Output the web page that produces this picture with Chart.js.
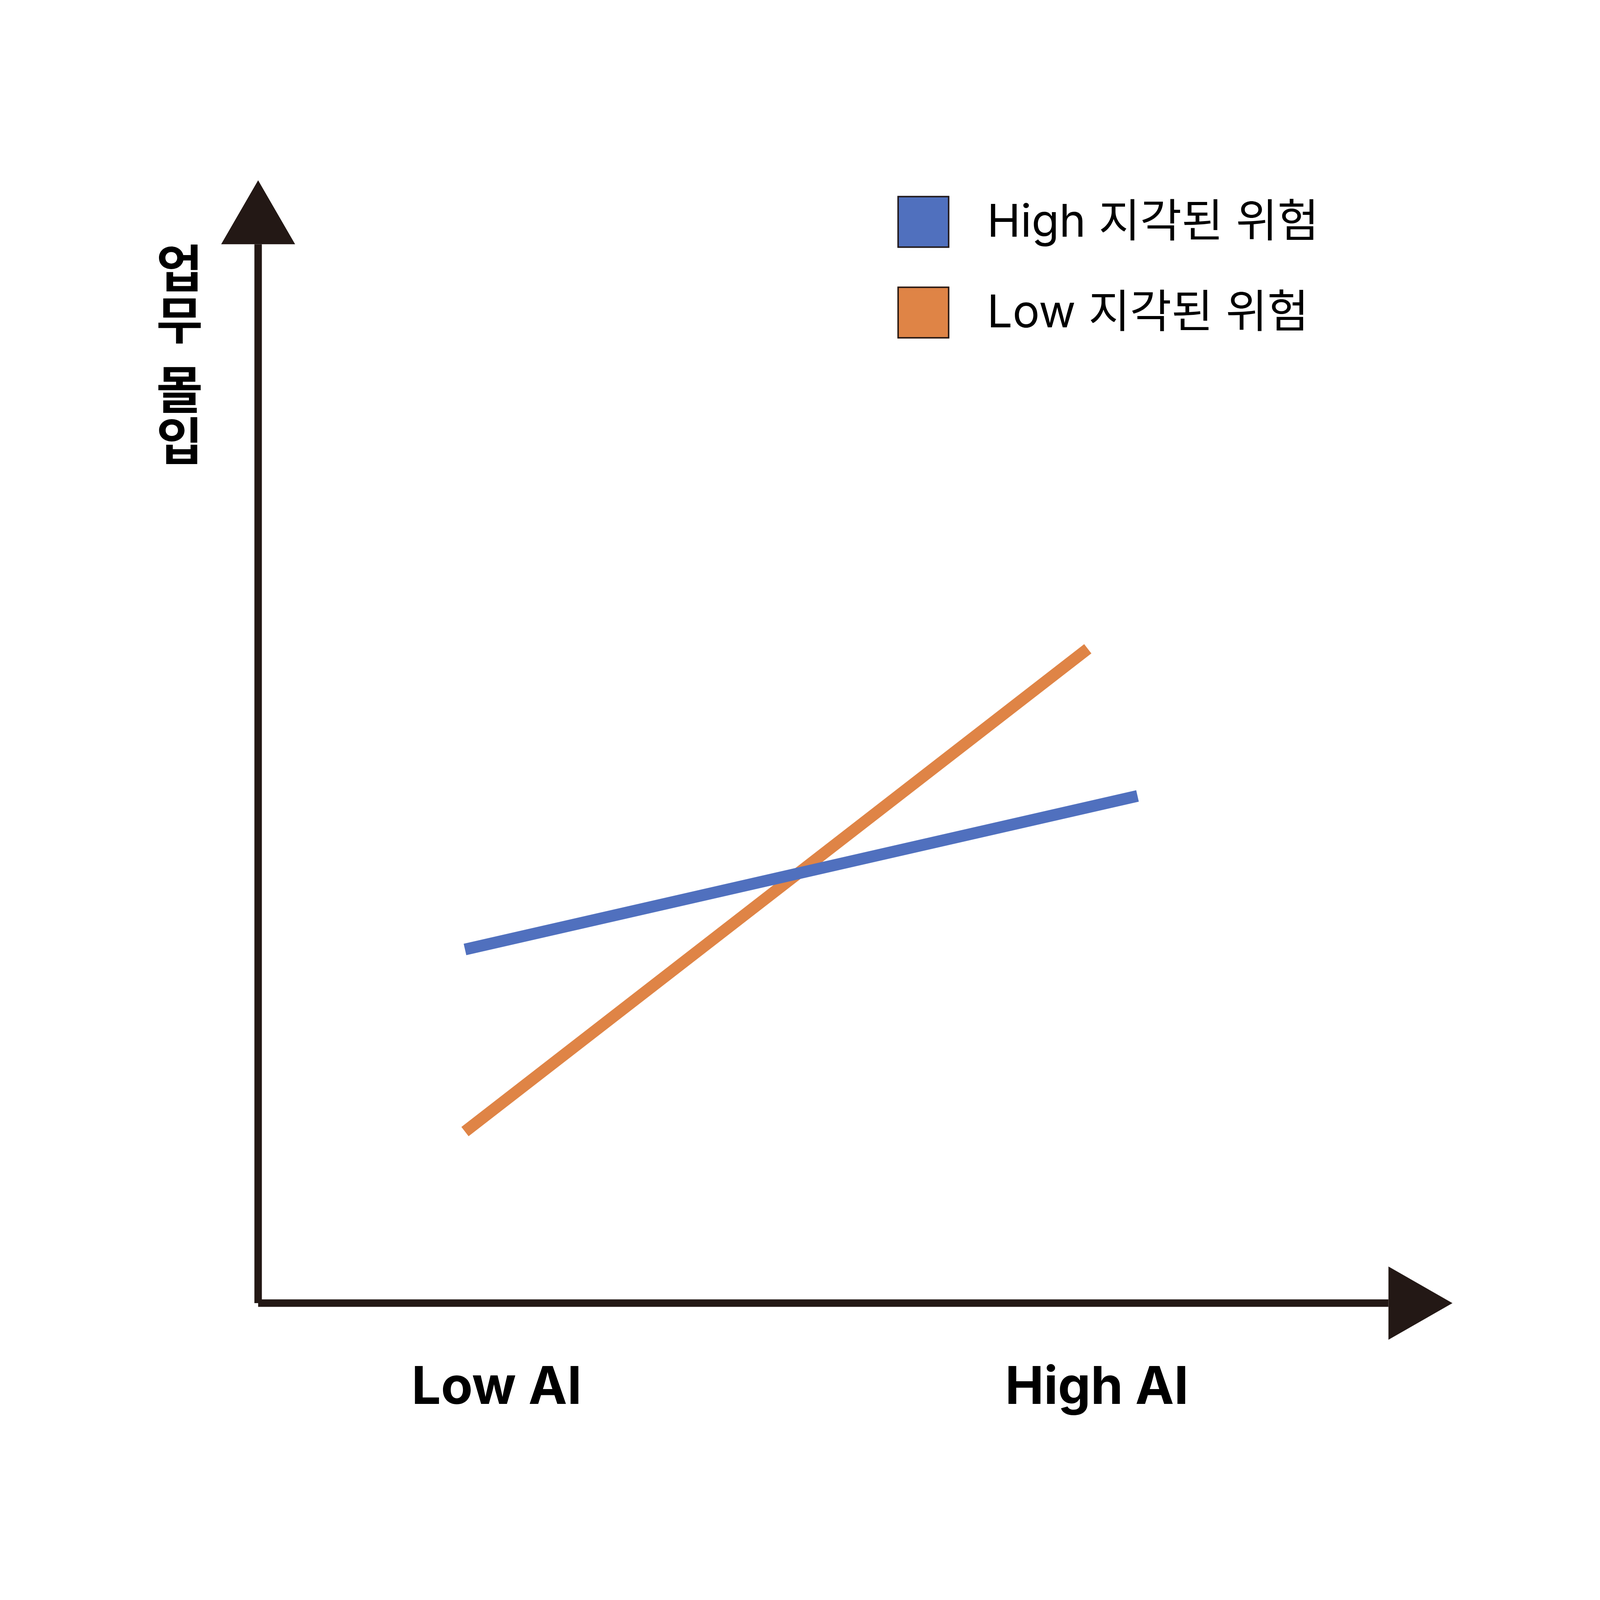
<!DOCTYPE html>
<html>
<head>
<meta charset="utf-8">
<script src="https://cdn.jsdelivr.net/npm/chart.js@4/dist/chart.umd.min.js"></script>
<style>
  html, body { margin: 0; padding: 0; background: #fff; overflow: hidden; }
  #wrap { width: 100vw; height: 100vh; }
</style>
</head>
<body>
<div id="wrap"><canvas id="chartEngagement"></canvas></div>
<script>
// Datos
const categories = ['Low AI', 'High AI'];
const categoryX = [2.11, 7.42];
const seriesLabels = ['High 지각된 위험', 'Low 지각된 위험'];
const highRiskX = [1.83, 7.78];
const highRiskY = [3.34, 4.79];
const lowRiskX = [1.83, 7.34];
const lowRiskY = [1.62, 6.18];
const yTitle = '업무 몰입';

const seriesColors = ['rgb(80, 112, 190)', 'rgb(223, 132, 70)'];
const inkColor = '#231815';
const fontFamily = "Inter, 'Noto Sans CJK KR', sans-serif";

// escala: el diseño se mide sobre un lienzo de 4500 px
const S = Math.min(window.innerWidth, window.innerHeight) / 4500;

const toPoints = (xs, ys) => xs.map((x, i) => ({ x: x, y: ys[i] }));

// Ejes con flechas, titulo vertical y leyenda
const decorations = {
  id: 'decorations',
  beforeDatasetsDraw(chart) {
    const { ctx, chartArea, scales } = chart;
    const x0 = scales.x.getPixelForValue(0);
    const y0 = scales.y.getPixelForValue(0);
    const lw = 21 * S;
    ctx.save();
    ctx.fillStyle = inkColor;
    // eje vertical
    ctx.fillRect(x0 - lw / 2, chartArea.top, lw, y0 - chartArea.top);
    // eje horizontal
    ctx.fillRect(x0, y0 - lw / 2, chartArea.right - x0, lw);
    // flecha arriba
    ctx.beginPath();
    ctx.moveTo(x0, chartArea.top - 180 * S);
    ctx.lineTo(x0 + 104 * S, chartArea.top);
    ctx.lineTo(x0 - 104 * S, chartArea.top);
    ctx.closePath();
    ctx.fill();
    // flecha derecha
    ctx.beginPath();
    ctx.moveTo(chartArea.right + 180 * S, y0);
    ctx.lineTo(chartArea.right, y0 - 103 * S);
    ctx.lineTo(chartArea.right, y0 + 103 * S);
    ctx.closePath();
    ctx.fill();

    // titulo del eje Y, caracteres apilados
    const size = 142 * S;
    ctx.font = 'bold ' + size + 'px ' + fontFamily;
    ctx.fillStyle = '#000';
    ctx.textAlign = 'center';
    ctx.textBaseline = 'middle';
    let cy = 765 * S;
    for (const ch of yTitle) {
      if (ch === ' ') { cy += size * 0.36; continue; }
      ctx.fillText(ch, 505 * S, cy);
      cy += size * 1.02;
    }

    // leyenda
    const box = 146 * S;
    chart.data.datasets.forEach((ds, i) => {
      const bx = 2524 * S;
      const by = (551 + i * 255) * S;
      ctx.fillStyle = ds.borderColor;
      ctx.fillRect(bx, by, box, box);
      ctx.strokeStyle = inkColor;
      ctx.lineWidth = 4 * S;
      ctx.strokeRect(bx + 2 * S, by + 2 * S, box - 4 * S, box - 4 * S);
      ctx.fillStyle = '#000';
      ctx.textAlign = 'left';
      ctx.textBaseline = 'middle';
      ctx.font = (127 * S) + 'px ' + fontFamily;
      ctx.fillText(ds.label, 2776 * S, by + box / 2 + 4 * S);
    });
    ctx.restore();
  }
};

const ctx = document.getElementById('chartEngagement').getContext('2d');

const chartEngagement = new Chart(ctx, {
  type: 'scatter',
  data: {
    datasets: [{
      label: seriesLabels[0],
      data: toPoints(highRiskX, highRiskY),
      borderColor: seriesColors[0],
      backgroundColor: seriesColors[0],
      borderWidth: 33 * S,
      borderCapStyle: 'butt',
      showLine: true,
      pointRadius: 0
    }, {
      label: seriesLabels[1],
      data: toPoints(lowRiskX, lowRiskY),
      borderColor: seriesColors[1],
      backgroundColor: seriesColors[1],
      borderWidth: 33 * S,
      borderCapStyle: 'butt',
      showLine: true,
      pointRadius: 0
    }]
  },
  options: {
    responsive: true,
    maintainAspectRatio: false,
    animation: false,
    layout: {
      padding: { left: 726 * S, top: 687 * S, right: 595 * S, bottom: 335 * S }
    },
    scales: {
      x: {
        type: 'linear',
        min: 0,
        max: 10,
        grid: { display: false, drawTicks: false },
        border: { display: false },
        afterBuildTicks: (axis) => {
          axis.ticks = categoryX.map(v => ({ value: v }));
        },
        afterFit: (axis) => { axis.height = 500 * S; },
        ticks: {
          autoSkip: false,
          maxRotation: 0,
          padding: 152 * S,
          color: '#000',
          font: { family: fontFamily, size: 146 * S, weight: 'bold' },
          callback: (value, index) => categories[index]
        }
      },
      y: {
        type: 'linear',
        min: 0,
        max: 10,
        display: false
      }
    },
    plugins: {
      legend: { display: false },
      tooltip: { enabled: false }
    }
  },
  plugins: [decorations]
});
</script>
</body>
</html>
